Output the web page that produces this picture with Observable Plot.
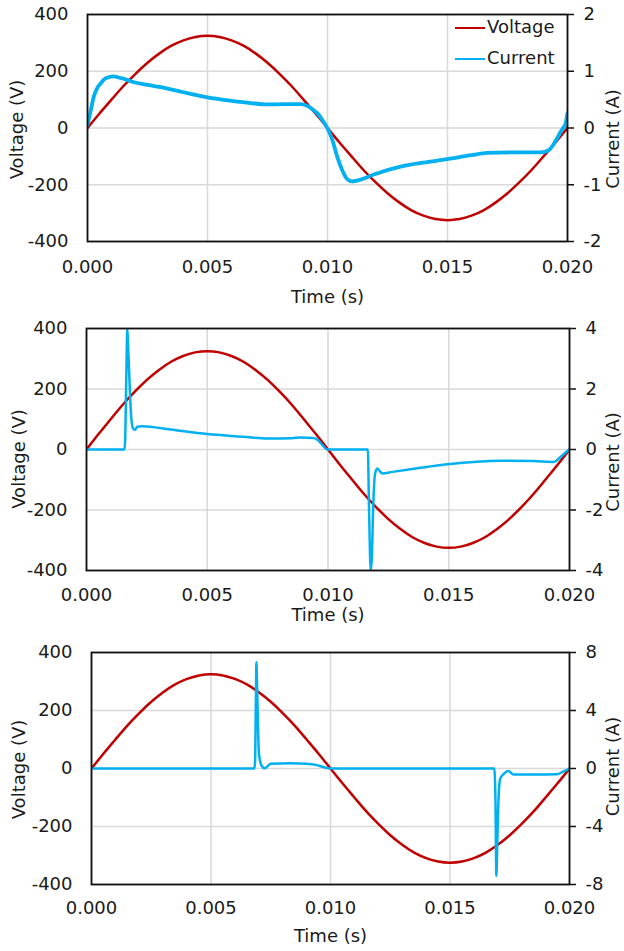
<!DOCTYPE html>
<html><head><meta charset="utf-8">
<script src="https://cdn.jsdelivr.net/npm/d3@7"></script>
<script src="https://cdn.jsdelivr.net/npm/@observablehq/plot@0.6"></script>
<style>
body{margin:0;background:#fff;}
#wrap{position:relative;width:624px;height:951px;font-family:"DejaVu Sans",sans-serif;color:#1a1a1a;}
.panel{position:absolute;left:0;}
.lg-line{position:absolute;height:0;width:30px;border-top:2px solid;}
.lg-text{position:absolute;font-size:18px;line-height:20px;white-space:nowrap;}
</style></head><body><div id="wrap"></div>
<script>
// ---- shared axes ----
const timeTicks = [0, 0.005, 0.010, 0.015, 0.020];
const voltageTicks = [-400, -200, 0, 200, 400];
const currentTicks1 = [-2, -1, 0, 1, 2];
const currentTicks2 = [-4, -2, 0, 2, 4];
const currentTicks3 = [-8, -4, 0, 4, 8];
const seriesNames = ["Voltage", "Current"];
const seriesColors = ["#C00000", "#00B0F0"];

// ---- voltage (same mains waveform in all three panels) ----
const voltageTime = [0.0000,0.0005,0.0010,0.0015,0.0020,0.0025,0.0030,0.0035,0.0040,0.0045,
  0.0050,0.0055,0.0060,0.0065,0.0070,0.0075,0.0080,0.0085,0.0090,0.0095,
  0.0100,0.0105,0.0110,0.0115,0.0120,0.0125,0.0130,0.0135,0.0140,0.0145,
  0.0150,0.0155,0.0160,0.0165,0.0170,0.0175,0.0180,0.0185,0.0190,0.0195,0.0200];
const voltage = [0,51,100,148,191,230,263,290,309,321,
  325,321,309,290,263,230,191,148,100,51,
  0,-51,-100,-148,-191,-230,-263,-290,-309,-321,
  -325,-321,-309,-290,-263,-230,-191,-148,-100,-51,0];

// ---- current, panel 1 (A) ----
const current1Time = [0,0.00013,0.00026,0.0004,0.00054,0.0007,0.00085,0.0011,0.0013,0.0015,
  0.0019,0.0025,0.0033,0.004,0.005,0.006,0.0068,0.0075,0.0082,0.0089,
  0.0092,0.0094,0.00964,0.0098,0.00999,0.0102,0.0104,0.0106,0.01082,0.01103,
  0.0112,0.01138,0.01193,0.01304,0.014,0.01499,0.016,0.01665,0.01776,0.01888,
  0.01922,0.0194,0.01957,0.0197,0.01985,0.0199,0.02];
const current1 = [0.05,0.3,0.55,0.7,0.78,0.86,0.89,0.91,0.89,0.87,
  0.81,0.76,0.70,0.63,0.54,0.48,0.44,0.415,0.42,0.42,
  0.38,0.32,0.23,0.13,0.0,-0.21,-0.5,-0.73,-0.9,-0.94,
  -0.93,-0.91,-0.82,-0.68,-0.61,-0.55,-0.48,-0.44,-0.43,-0.43,
  -0.39,-0.3,-0.18,-0.08,0.02,0.05,0.26];

// ---- current, panel 2 (A) ----
const current2Time = [0,0.00157,0.0016,0.00165,0.00169,0.00173,0.00179,0.00185,0.00193,0.0020,
  0.0021,0.00231,0.00348,0.005,0.0065,0.00748,0.0085,0.00886,0.0094,0.0096,
  0.0098,0.00997,0.01165,0.0117,0.01177,0.01182,0.01186,0.01195,0.01204,0.01215,
  0.01225,0.01267,0.01363,0.01494,0.01715,0.0185,0.01936,0.01964,0.0199,0.02];
const current2 = [0,0,0.3,2.5,4.0,3.3,2.07,1.08,0.69,0.65,
  0.75,0.77,0.66,0.51,0.42,0.36,0.37,0.40,0.38,0.3,
  0.12,0,0,-2.0,-4.0,-3.5,-2.2,-0.8,-0.63,-0.72,
  -0.79,-0.74,-0.63,-0.49,-0.37,-0.38,-0.41,-0.24,-0.06,0];

// ---- current, panel 3 (A) ----
const current3Time = [0,0.0068,0.00684,0.00688,0.0069,0.00693,0.00696,0.007,0.0071,0.00724,
  0.0075,0.0083,0.009,0.0094,0.0097,0.01,0.01685,0.0169,0.01694,0.01698,
  0.01702,0.0171,0.0173,0.01745,0.01766,0.0185,0.01947,0.01975,0.02];
const current3 = [0,0,0.3,5.0,7.35,5.5,3.4,1.17,0.25,0.02,
  0.32,0.36,0.33,0.25,0.1,0,0,-2.0,-7.4,-5.0,
  -2.5,-0.7,-0.3,-0.18,-0.42,-0.42,-0.4,-0.2,0];

const panels = [
  {top:0, height:310, mt:14, mb:69, ml:87, mr:57, cTime:current1Time, cVal:current1, cTicks:currentTicks1, cw:3.8,
   xlab:19, tdy:56, vdx:-70, vdy:1.5, cdx:46, cdy:11},
  {top:310, height:320, mt:18, mb:60, ml:86, mr:55, cTime:current2Time, cVal:current2, cTicks:currentTicks2, cw:2.5,
   xlab:18, tdy:45, vdx:-67, vdy:9.5, cdx:44, cdy:12.5},
  {top:630, height:321, mt:22, mb:67, ml:91, mr:55, cTime:current3Time, cVal:current3, cTicks:currentTicks3, cw:2.5,
   xlab:17, tdy:52, vdx:-72, vdy:1, cdx:44, cdy:-2}
];

const wrap = document.getElementById("wrap");
const vData = voltageTime.map((t, i) => ({t, v: voltage[i]}));

for (const p of panels) {
  const k = 400 / p.cTicks[p.cTicks.length - 1];
  const cData = p.cTime.map((t, i) => ({t, v: p.cVal[i] * k}));
  const chart = Plot.plot({
    width: 624, height: p.height,
    marginTop: p.mt, marginBottom: p.mb, marginLeft: p.ml, marginRight: p.mr,
    style: {fontFamily: "DejaVu Sans, sans-serif", fontSize: "18px", color: "#1a1a1a", background: "transparent", overflow: "visible"},
    x: {domain: [0, 0.02]},
    y: {domain: [-400, 400]},
    marks: [
      Plot.gridX(timeTicks, {stroke: "#d9d9d9", strokeOpacity: 1, strokeWidth: 1.5}),
      Plot.gridY(voltageTicks, {stroke: "#d9d9d9", strokeOpacity: 1, strokeWidth: 1.5}),
      Plot.line(vData, {x: "t", y: "v", stroke: seriesColors[0], strokeWidth: 2.5, curve: "natural", clip: true}),
      Plot.line(cData, {x: "t", y: "v", stroke: seriesColors[1], strokeWidth: p.cw, curve: "monotone-x", clip: true}),
      Plot.frame({stroke: "#111", strokeWidth: 1.8}),
      Plot.axisX(timeTicks, {anchor: "bottom", tickSize: 0, tickPadding: p.xlab, tickFormat: d => d.toFixed(3), label: null, fontSize: 18}),
      Plot.axisY(voltageTicks, {anchor: "left", tickSize: 0, tickPadding: 19, tickFormat: d => String(d), label: null, fontSize: 18}),
      Plot.axisY(p.cTicks.map(c => c * k), {anchor: "right", tickSize: 6, tickPadding: 10, stroke: "#111", strokeWidth: 1.5,
        tickFormat: d => String(Math.round(d / k)), label: null, fontSize: 18}),
      Plot.text(["Time (s)"], {frameAnchor: "bottom", dy: p.tdy, lineAnchor: "middle", fontSize: 18, fill: "#1a1a1a"}),
      Plot.text(["Voltage (V)"], {frameAnchor: "left", dx: p.vdx, dy: p.vdy, rotate: -90, textAnchor: "middle", lineAnchor: "middle", fontSize: 18, fill: "#1a1a1a"}),
      Plot.text(["Current (A)"], {frameAnchor: "right", dx: p.cdx, dy: p.cdy, rotate: -90, textAnchor: "middle", lineAnchor: "middle", fontSize: 18, fill: "#1a1a1a"})
    ]
  });
  chart.classList.add("panel");
  chart.style.top = p.top + "px";
  wrap.appendChild(chart);
}

// legend inside the top panel
seriesNames.forEach((name, i) => {
  const y = 28 + i * 31;
  const ln = document.createElement("div");
  ln.className = "lg-line";
  ln.style.left = "455px"; ln.style.top = (y - 1) + "px"; ln.style.borderColor = seriesColors[i];
  const tx = document.createElement("div");
  tx.className = "lg-text";
  tx.style.left = "487px"; tx.style.top = (y - 11) + "px";
  tx.textContent = name;
  wrap.appendChild(ln); wrap.appendChild(tx);
});
</script>
</body></html>
